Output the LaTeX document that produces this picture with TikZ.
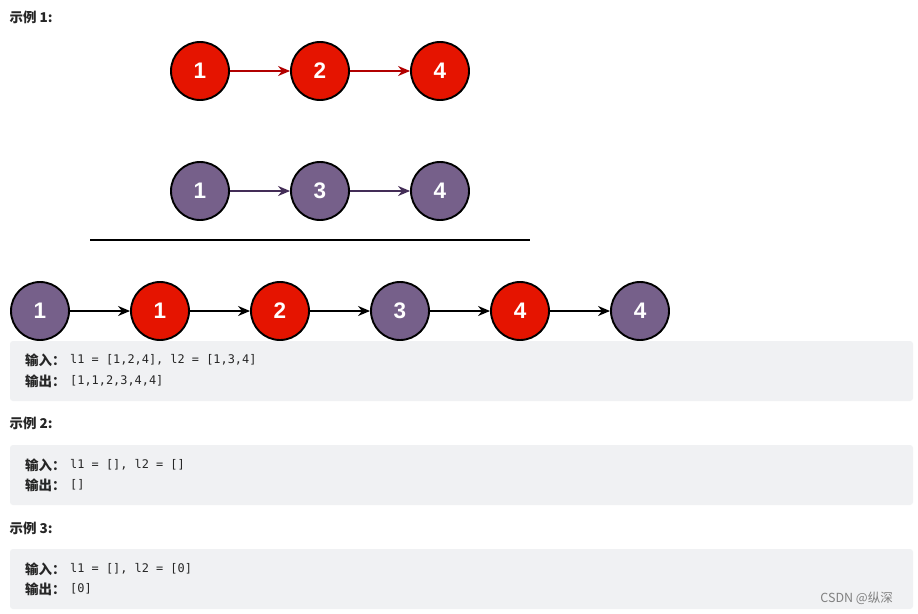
\documentclass[tikz,border=0pt]{standalone}
\usepackage{fontspec}
\setmainfont{Liberation Sans}
\setmonofont{DejaVu Sans Mono}
\newfontfamily\cjk{Noto Sans CJK SC}
\usetikzlibrary{arrows.meta}
\usetikzlibrary{positioning}

\definecolor{nodeRed}{HTML}{E51400}
\definecolor{arrRed}{HTML}{B20000}
\definecolor{nodePurple}{HTML}{76608A}
\definecolor{arrPurple}{HTML}{432D57}
\definecolor{boxGray}{HTML}{F0F1F3}
\definecolor{txtDark}{HTML}{262626}

\tikzset{
	listnode/.style={circle, draw=black, line width=1.9pt, minimum size=58pt,
		inner sep=0pt, text=white, font=\fontsize{22.5}{22.5}\selectfont\bfseries},
	rednode/.style={listnode, fill=nodeRed},
	purplenode/.style={listnode, fill=nodePurple},
	link/.style={line width=1.5pt, -{Stealth[length=12pt,width=10pt]}},
	codebox/.style={fill=boxGray, rounded corners=3pt, draw=none},
	title/.style={anchor=west, text=txtDark, font=\cjk\bfseries\fontsize{13.5}{13.5}\selectfont},
	label/.style={anchor=west, inner xsep=0pt, text=txtDark, font=\cjk\bfseries\fontsize{13.5}{13.5}\selectfont},
	code/.style={anchor=west, inner xsep=0pt, text=txtDark, font=\ttfamily\fontsize{11.9}{11.9}\selectfont}
}

\begin{document}
\begin{tikzpicture}[x=1pt,y=-1pt]
		\useasboundingbox[fill=white] (0,0) rectangle (918,613);
		%% Example 1 heading
		\node[title] (t1) at (6,17) {示例 1:};
		%% first list
		\node[rednode] (a1) at (200,71) {1};
		\node[rednode] (a2) at (320,71) {2};
		\node[rednode] (a3) at (440,71) {4};
		\draw[link, arrRed] (a1) -- (a2);
		\draw[link, arrRed] (a2) -- (a3);
		%% second list
		\node[purplenode] (b1) at (200,191) {1};
		\node[purplenode] (b2) at (320,191) {3};
		\node[purplenode] (b3) at (440,191) {4};
		\draw[link, arrPurple] (b1) -- (b2);
		\draw[link, arrPurple] (b2) -- (b3);
		%% separating line
		\path (90,240) coordinate (sep_st)
			  (530,240) coordinate (sep_en);
		\draw[line width=1.6pt] (sep_st) -- (sep_en);
		%% merged list
		\node[purplenode] (m1) at (40,311) {1};
		\node[rednode]    (m2) at (160,311) {1};
		\node[rednode]    (m3) at (280,311) {2};
		\node[purplenode] (m4) at (400,311) {3};
		\node[rednode]    (m5) at (520,311) {4};
		\node[purplenode] (m6) at (640,311) {4};
		\foreach \i/\j in {1/2,2/3,3/4,4/5,5/6}
			\draw[link, black] (m\i) -- (m\j);
		%% code boxes
		\fill[codebox] (10,341) rectangle (913,401);
		\node[label] (in1) at (25,360) {输入：};
		\node[code] at (70,360) {l1 = [1,2,4], l2 = [1,3,4]};
		\node[label] (out1) at (25,381) {输出：};
		\node[code] at (70,381) {[1,1,2,3,4,4]};

		\node[title] (t2) at (6,423) {示例 2:};
		\fill[codebox] (10,445) rectangle (913,505);
		\node[label] (in2) at (25,465) {输入：};
		\node[code] at (70,465) {l1 = [], l2 = []};
		\node[label] (out2) at (25,485) {输出：};
		\node[code] at (70,485) {[]};

		\node[title] (t3) at (6,528) {示例 3:};
		\fill[codebox] (10,549) rectangle (913,609);
		\node[label] (in3) at (25,569) {输入：};
		\node[code] at (70,569) {l1 = [], l2 = [0]};
		\node[label] (out3) at (25,589) {输出：};
		\node[code] at (70,589) {[0]};
		%% watermark
		\node[anchor=east, inner xsep=0pt, text=gray, font=\cjk\fontsize{12.5}{12.5}\selectfont] (wm) at (893,598) {CSDN @纵深};
	\end{tikzpicture}
\end{document}
